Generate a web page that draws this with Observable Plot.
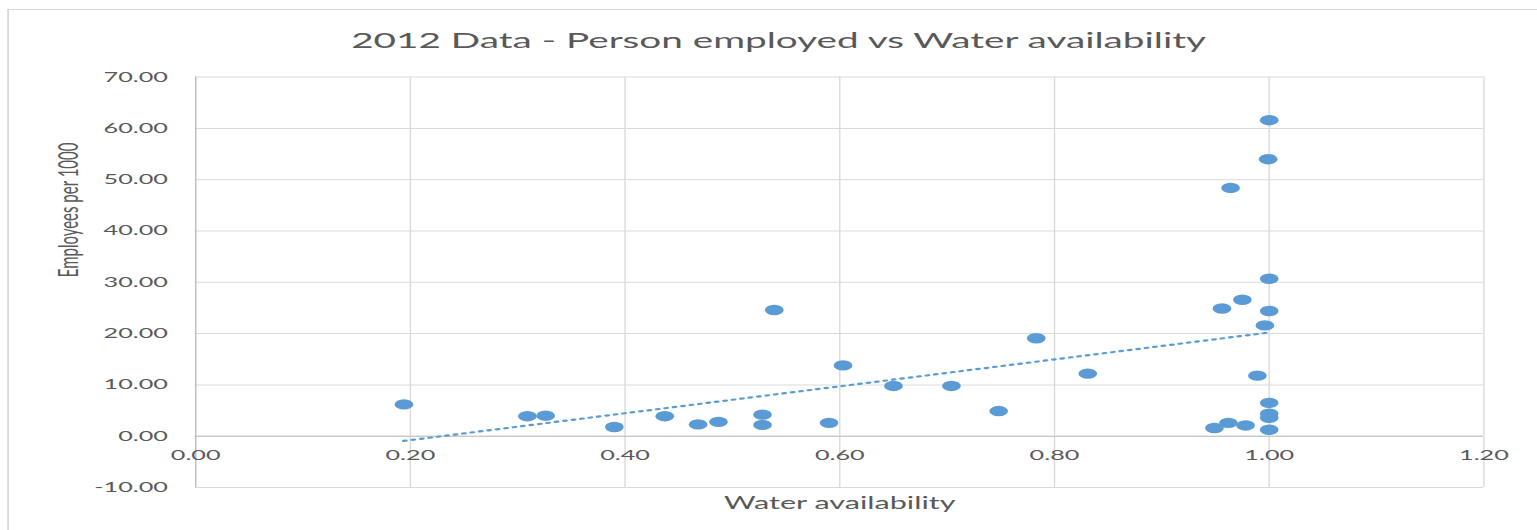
<!DOCTYPE html>
<html>
<head>
<meta charset="utf-8">
<script src="https://cdn.jsdelivr.net/npm/d3@7"></script>
<script src="https://cdn.jsdelivr.net/npm/@observablehq/plot@0.6"></script>
<style>
  html, body { margin: 0; padding: 0; background: #fff; overflow: hidden; }
  #wrap { position: relative; width: 854px; height: 530px; transform: scaleX(1.8); transform-origin: 0 0; }
  #frame { position: absolute; left: 4.4px; top: 9px; right: -20px; bottom: -20px;
           border-left: 1px solid #d9d9d9; border-top: 1.5px solid #d9d9d9; }
  #chart { position: absolute; left: 0; top: 0; }
</style>
</head>
<body>
<div id="wrap"><div id="frame"></div><div id="chart"></div></div>
<script>
const chartTitle = "2012 Data - Person employed vs Water availability";
const xTitle = "Water availability";
const yTitle = "Employees per 1000";

const waterAvailability = [
  0.194, 0.309, 0.326, 0.390, 0.437, 0.468, 0.487, 0.528, 0.528, 0.539,
  0.590, 0.603, 0.650, 0.704, 0.748, 0.783, 0.831, 0.949, 0.962, 0.964,
  0.956, 0.975, 0.978, 0.989, 0.996, 1.000, 0.999, 1.000, 1.000, 1.000,
  1.000, 1.000, 1.000
];
const employeesPer1000 = [
  6.2, 3.9, 4.0, 1.8, 3.9, 2.3, 2.8, 4.2, 2.2, 24.6,
  2.6, 13.8, 9.8, 9.8, 4.9, 19.1, 12.2, 1.6, 2.6, 48.4,
  24.9, 26.6, 2.1, 11.8, 21.6, 61.6, 54.0, 30.7, 24.4, 6.5,
  4.4, 3.6, 1.25
];
const xTicks = [0, 0.2, 0.4, 0.6, 0.8, 1.0, 1.2];
const yTicks = [-10, 0, 10, 20, 30, 40, 50, 60, 70];

const data = waterAvailability.map((x, i) => ({x, y: employeesPer1000[i]}));
const fmt = d3.formatLocale({decimal: ".", thousands: ",", grouping: [3], currency: ["", ""], minus: "-"}).format(".2f");
const blue = "#5b9bd5";
const grey = "#595959";

const chart = Plot.plot({
  width: 854,
  height: 530,
  marginLeft: 108.2,
  marginRight: 30.1,
  marginTop: 76.6,
  marginBottom: 43,
  style: {fontFamily: "Lato, 'Open Sans', sans-serif", background: "transparent", overflow: "visible"},
  x: {domain: [0, 1.2], axis: null},
  y: {domain: [-10, 70], axis: null},
  marks: [
    Plot.ruleX(xTicks, {x: d => d, stroke: "#d9d9d9", strokeWidth: 0.75}),
    Plot.ruleY(yTicks, {y: d => d, stroke: "#d9d9d9", strokeWidth: 1}),
    Plot.ruleX(xTicks.slice(0, 1), {x: d => d, stroke: "#bfbfbf", strokeWidth: 0.75}),
    Plot.ruleY(yTicks.slice(1, 2), {y: d => d, stroke: "#bfbfbf", strokeWidth: 1}),
    Plot.text(yTicks, {x: () => 0, y: d => d, text: d => fmt(d), textAnchor: "end", dx: -15.4, fontSize: 14, fill: grey}),
    Plot.text(xTicks, {x: d => d, y: () => 0, text: d => fmt(d), dy: 19.3, fontSize: 14, fill: grey}),
    Plot.linearRegressionY(data, {x: "x", y: "y", ci: 0, stroke: blue, strokeWidth: 2.2, strokeDasharray: "1.1,3.7"}),
    Plot.dot(data, {x: "x", y: "y", r: 5.2, fill: blue, stroke: "none"}),
    Plot.text([chartTitle], {frameAnchor: "top", lineAnchor: "bottom", dy: -28.9, dx: -34, fontSize: 21.5, fill: grey, ariaLabel: "charttitle"}),
    Plot.text([xTitle], {frameAnchor: "bottom", lineAnchor: "bottom", dy: 21, fontSize: 17, fill: grey, ariaLabel: "xtitle"}),
    Plot.text([yTitle], {frameAnchor: "left", rotate: -90, dx: -69.9, dy: -5, fontSize: 15, fill: grey, ariaLabel: "ytitle"})
  ]
});
document.getElementById("chart").appendChild(chart);
const svg = d3.select(chart);
svg.selectAll("g[aria-label=charttitle] text").attr("textLength", 489).attr("lengthAdjust", "spacingAndGlyphs");
svg.selectAll("g[aria-label=xtitle] text").attr("textLength", 122).attr("lengthAdjust", "spacingAndGlyphs");
svg.selectAll("g[aria-label=ytitle] text").attr("textLength", 160).attr("lengthAdjust", "spacingAndGlyphs");
</script>
</body>
</html>
